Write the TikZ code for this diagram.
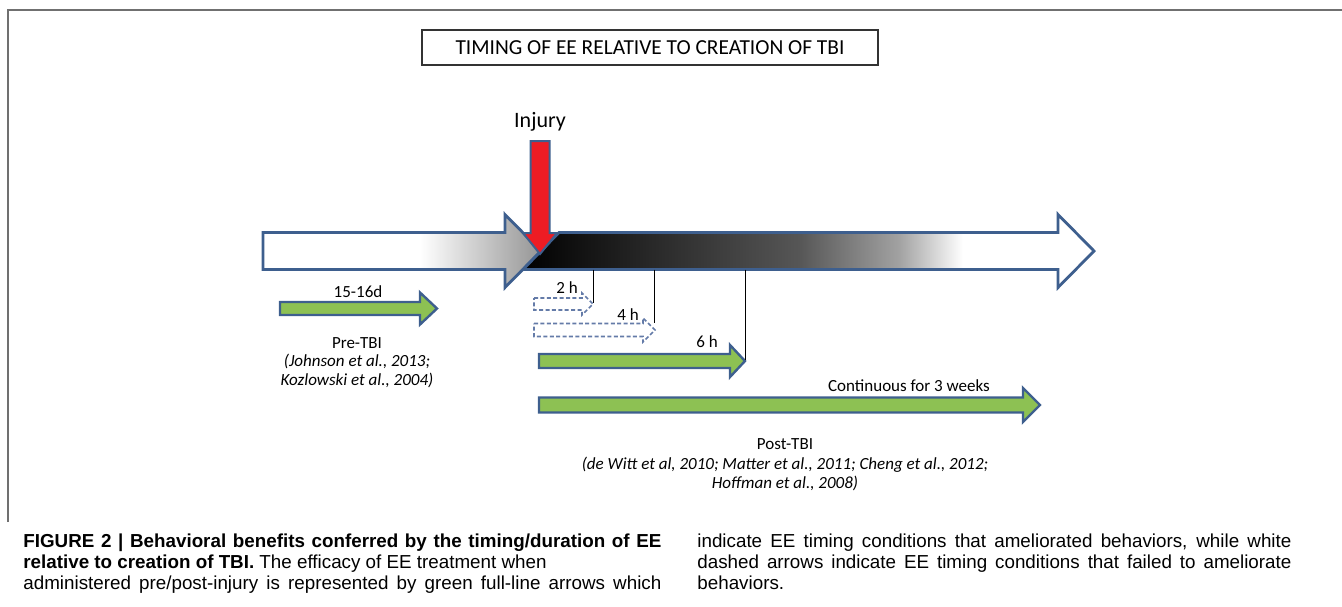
\documentclass[tikz,border=0pt]{standalone}
\usepackage{fontspec}
\setmainfont{Carlito}
\newfontfamily\capfont{Liberation Sans}
\definecolor{edgeblue}{HTML}{3E5F8E}
\definecolor{dashblue}{HTML}{647BA8}
\definecolor{eegreen}{HTML}{8DC153}
\definecolor{injred}{HTML}{ED1C24}
\definecolor{framegray}{HTML}{707070}
% block arrow: [style]{x start}{x tip}{y centre}{half shaft}{half head}{head length}
\newcommand{\blockarrow}[7][]{%
  \draw[#1] (#2,#4-#5) -- (#3-#7,#4-#5) -- (#3-#7,#4-#6) -- (#3,#4)
    -- (#3-#7,#4+#6) -- (#3-#7,#4+#5) -- (#2,#4+#5) -- cycle;}
\begin{document}
\begin{tikzpicture}[x=0.5pt,y=-0.5pt,
    bigedge/.style={draw=edgeblue,line width=1.4pt},
    greenarr/.style={fill=eegreen,draw=edgeblue,line width=1.2pt},
    dasharr/.style={fill=white,draw=dashblue,line width=0.8pt,dash pattern=on 2pt off 1.2pt},
    tickline/.style={black,line width=0.5pt},
    lbl/.style={inner sep=0pt,anchor=base,font=\fontsize{8.5}{10}\selectfont},
    reflbl/.style={lbl,font=\fontsize{8.5}{10}\selectfont\itshape},
    capline/.style={inner sep=0pt,anchor=base west,font=\capfont\fontsize{9.4}{10.5}\selectfont}]
  \useasboundingbox (0,0) rectangle (1342,606);
  \draw[framegray,line width=1pt] (8,522) -- (8,10) -- (1342,10);
  \node[draw=black!80,line width=0.6pt,minimum width=228pt,minimum height=17.5pt,inner sep=0pt,
        font=\fontsize{10.7}{12}\selectfont] (title) at (650,47.5)
        {TIMING OF EE RELATIVE TO CREATION OF TBI};

  % time line: pre part, then post part on top
  \def\prepath{(263,269.5) -- (263,232.5) -- (505,232.5) -- (505,214.5) -- (541,251)
    -- (505,287.5) -- (505,269.5) -- cycle}
  \def\postpath{(523,269.5) -- (559,232.5) -- (1058,232.5) -- (1058,214.5) -- (1094,251)
    -- (1058,287.5) -- (1058,269.5) -- cycle}
  \begin{scope}
    \clip \prepath;
    \fill[white] (260,200) rectangle (550,300);
    \shade[left color=white,right color=black!42] (420,200) rectangle (542,300);
  \end{scope}
  \draw[bigedge] \prepath;
  \begin{scope}
    \clip \postpath;
    \fill[white] (520,200) rectangle (1100,300);
    \shade[left color=black,right color=black!88] (520,200) rectangle (621,300);
    \shade[left color=black!88,right color=black!66] (620,200) rectangle (801,300);
    \shade[left color=black!66,right color=black!36] (800,200) rectangle (901,300);
    \shade[left color=black!36,right color=white] (900,200) rectangle (963,300);
  \end{scope}
  \draw[bigedge] \postpath;

  % injury
  \draw[fill=injred,draw=edgeblue,line width=1pt] (530.5,141) -- (549.5,141) -- (549.5,233)
    -- (557,233) -- (540,254) -- (523,233) -- (530.5,233) -- cycle;
  \node[inner sep=0pt,anchor=base,font=\fontsize{11}{13}\selectfont] (injury) at (540,127) {Injury};

  % pre-TBI
  \blockarrow[greenarr]{280}{437}{308.5}{6.5}{16}{17}
  \node[lbl] (pre-d) at (358,297) {15-16d};
  \node[lbl] (pre) at (357,348) {Pre-TBI};
  \node[reflbl] (pre-r1) at (357,366) {(Johnson et al., 2013;};
  \node[reflbl] (pre-r2) at (357,385) {Kozlowski et al., 2004)};

  % post-TBI
  \blockarrow[dasharr]{534}{593}{304}{6}{11}{11}
  \blockarrow[dasharr]{534}{655}{330}{6.5}{12}{12}
  \blockarrow[greenarr]{539}{745}{361}{7}{16}{15}
  \blockarrow[greenarr]{539}{1040}{405}{7.5}{17}{17}
  \coordinate (b2) at (593,269.5); \coordinate (t2) at (593,303);
  \coordinate (b4) at (654,269.5); \coordinate (t4) at (654,323);
  \coordinate (b6) at (745,269.5); \coordinate (t6) at (745,360);
  \draw[tickline] (b2) -- (t2);
  \draw[tickline] (b4) -- (t4);
  \draw[tickline] (b6) -- (t6);
  \node[lbl] (h2) at (567,293) {2 h};
  \node[lbl] (h4) at (628,320) {4 h};
  \node[lbl] (h6) at (707,347) {6 h};
  \node[lbl] (cont) at (909,391) {Continuous for 3 weeks};
  \node[lbl] (post) at (785,449) {Post-TBI};
  \node[reflbl] (post-r1) at (785,469) {(de Witt et al, 2010; Matter et al., 2011; Cheng et al., 2012;};
  \node[reflbl] (post-r2) at (785,488) {Hoffman et al., 2008)};

  % caption
  \node[capline] (cap1) at (23,547) {\hbox to 319pt{\bfseries FIGURE 2 | Behavioral benefits conferred by the timing/duration of EE}};
  \node[capline] (cap2) at (23,568) {\textbf{relative to creation of TBI.} The efficacy of EE treatment when};
  \node[capline] (cap3) at (23,589) {\hbox to 319pt{administered pre/post-injury is represented by green full-line arrows which}};
  \node[capline] (cap4) at (697,547) {\hbox to 297pt{indicate EE timing conditions that ameliorated behaviors, while white}};
  \node[capline] (cap5) at (697,568) {\hbox to 297pt{dashed arrows indicate EE timing conditions that failed to ameliorate}};
  \node[capline] (cap6) at (697,589) {behaviors.};
\end{tikzpicture}
\end{document}
